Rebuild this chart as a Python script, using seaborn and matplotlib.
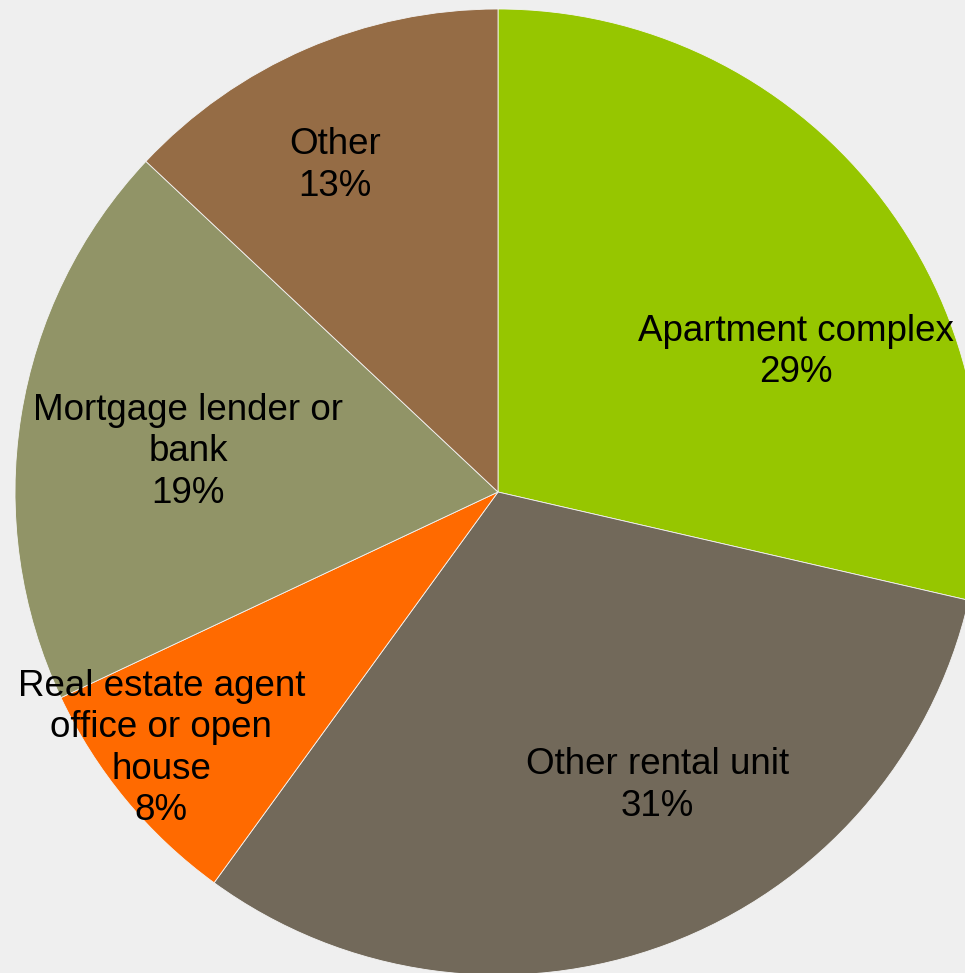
import matplotlib
matplotlib.use("Agg")
import matplotlib.pyplot as plt
import seaborn as sns

categories = ["Apartment complex", "Other rental unit",
              "Real estate agent\noffice or open\nhouse",
              "Mortgage lender or\nbank", "Other"]
shares = [28.6, 31.4, 8.0, 19.0, 13.0]
colors = ["#96c600", "#72695a", "#ff6a00", "#919467", "#956c45"]

# label centres in axis-data units (layout only)
label_pos = [(0.617, 0.290), (0.330, -0.608), (-0.697, -0.531),
             (-0.641, 0.083), (-0.338, 0.676)]

sns.set_theme(style="white")
plt.rcParams["font.family"] = ["Liberation Sans", "DejaVu Sans"]

W, H, DPI = 965, 973, 100
fig = plt.figure(figsize=(W / DPI, H / DPI), dpi=DPI, facecolor="#efefef")
cx, cy, r = 498, 492, 483
ax = fig.add_axes([(cx - r) / W, (H - cy - r) / H, 2 * r / W, 2 * r / H])
ax.set_facecolor("#efefef")

ax.pie(shares, colors=colors, startangle=90, counterclock=False, radius=1,
       wedgeprops=dict(edgecolor="#f4f4f4", linewidth=0.6))
ax.set_xlim(-1, 1)
ax.set_ylim(-1, 1)
ax.set_aspect("auto")
ax.axis("off")

for cat, val, (x, y) in zip(categories, shares, label_pos):
    ax.text(x, y, f"{cat}\n{round(val):d}%", ha="center", va="center",
            fontsize=26.5, color="black", linespacing=1.24)

fig.savefig("out.png", dpi=DPI, facecolor=fig.get_facecolor())
